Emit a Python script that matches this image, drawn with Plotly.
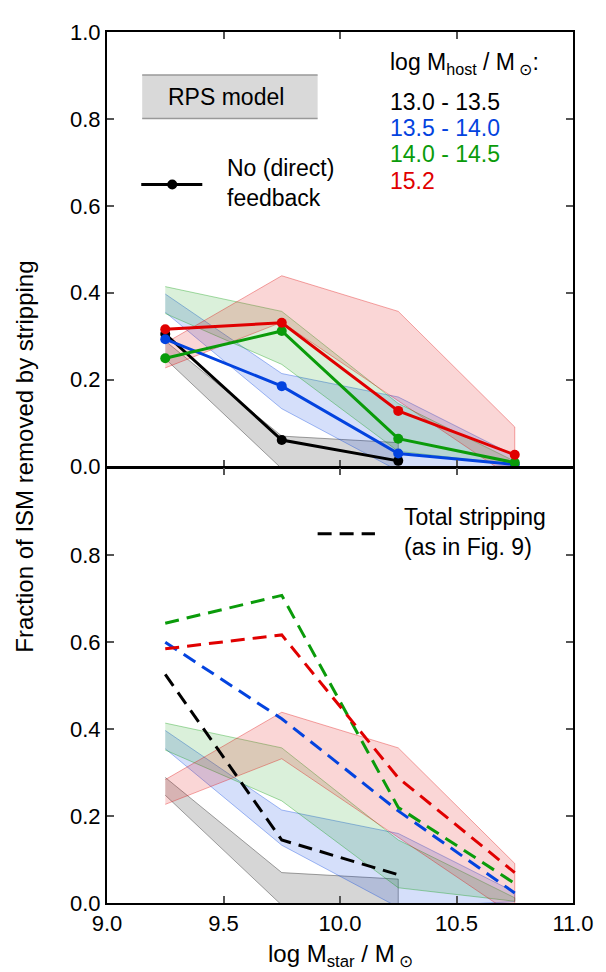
import plotly.graph_objects as go

# stellar mass bins (log M_star / M_sun)
mstar = [9.25, 9.75, 10.25, 10.75]

host_bins = ['13.0 - 13.5', '13.5 - 14.0', '14.0 - 14.5', '15.2']
colors = ['#000000', '#0343df', '#0a9b0a', '#e00000']
fills = ['rgba(0,0,0,0.16)', 'rgba(3,67,223,0.17)', 'rgba(10,155,10,0.15)', 'rgba(224,0,0,0.16)']
edges = ['rgba(0,0,0,0.35)', 'rgba(3,67,223,0.35)', 'rgba(10,155,10,0.35)', 'rgba(224,0,0,0.35)']

# No (direct) feedback - fraction removed by stripping
nofb_13_0 = [0.305, 0.061, 0.013]
nofb_13_5 = [0.293, 0.185, 0.030, 0.005]
nofb_14_0 = [0.249, 0.312, 0.064, 0.009]
nofb_15_2 = [0.316, 0.331, 0.128, 0.027]

# Total stripping (as in Fig. 9)
tot_13_0 = [0.526, 0.145, 0.065]
tot_13_5 = [0.600, 0.424, 0.212, 0.023]
tot_14_0 = [0.644, 0.708, 0.220, 0.045]
tot_15_2 = [0.585, 0.617, 0.288, 0.070]

# RPS model bands (upper / lower)
rps_hi_13_0 = [0.289, 0.070, 0.055]
rps_lo_13_0 = [0.248, -0.005, -0.01]
rps_hi_13_5 = [0.397, 0.214, 0.160, 0.025]
rps_lo_13_5 = [0.355, 0.133, -0.01, 0.003]
rps_hi_14_0 = [0.414, 0.357, 0.145, 0.012]
rps_lo_14_0 = [0.352, 0.235, 0.035, 0.004]
rps_hi_15_2 = [0.284, 0.439, 0.357, 0.091]
rps_lo_15_2 = [0.227, 0.332, 0.150, -0.03]

nofb = [nofb_13_0, nofb_13_5, nofb_14_0, nofb_15_2]
total = [tot_13_0, tot_13_5, tot_14_0, tot_15_2]
rps_hi = [rps_hi_13_0, rps_hi_13_5, rps_hi_14_0, rps_hi_15_2]
rps_lo = [rps_lo_13_0, rps_lo_13_5, rps_lo_14_0, rps_lo_15_2]

FONT = 'Liberation Sans, Arial, Helvetica, sans-serif'

fig = go.Figure()

for xa, ya in [('x', 'y'), ('x2', 'y2')]:
    for i in range(4):
        xs = mstar[:len(rps_hi[i])]
        fig.add_trace(go.Scatter(
            x=xs + xs[::-1], y=rps_hi[i] + rps_lo[i][::-1],
            fill='toself', fillcolor=fills[i], mode='lines',
            line=dict(color=edges[i], width=1),
            xaxis=xa, yaxis=ya, showlegend=False, hoverinfo='skip'
        ))

for i in range(4):
    fig.add_trace(go.Scatter(
        x=mstar[:len(nofb[i])], y=nofb[i], mode='lines+markers',
        line=dict(color=colors[i], width=3),
        marker=dict(color=colors[i], size=10),
        xaxis='x', yaxis='y', showlegend=False, name=host_bins[i]
    ))
    fig.add_trace(go.Scatter(
        x=mstar[:len(total[i])], y=total[i], mode='lines',
        line=dict(color=colors[i], width=3, dash='14px,8px'),
        xaxis='x2', yaxis='y2', showlegend=False, name=host_bins[i]
    ))

axis_common = dict(
    range=[9, 11], showline=True, linecolor='black', linewidth=2, mirror='ticks',
    ticks='inside', ticklen=7, tickwidth=1.5, tickcolor='#555555',
    showgrid=False, zeroline=False,
    tickfont=dict(family=FONT, size=22, color='black'),
    tickvals=[9.0, 9.5, 10.0, 10.5, 11.0], ticktext=['9.0', '9.5', '10.0', '10.5', '11.0'],
)
yaxis_common = dict(
    range=[0, 1], showline=True, linecolor='black', linewidth=2, mirror='ticks',
    ticks='inside', ticklen=7, tickwidth=1.5, tickcolor='#555555',
    showgrid=False, zeroline=False,
    tickfont=dict(family=FONT, size=22, color='black'),
)

# page body adds 8px offset, so the figure is 8px smaller
gap = 1.0 / 881
fig.update_layout(
    width=598, height=964,
    margin=dict(l=99, r=27, t=14, b=69),
    paper_bgcolor='white', plot_bgcolor='white',
    font=dict(family=FONT, color='black'),
    xaxis=dict(axis_common, domain=[0, 1], anchor='y', showticklabels=False),
    xaxis2=dict(axis_common, domain=[0, 1], anchor='y2', matches='x'),
    yaxis=dict(yaxis_common, domain=[0.5 + gap, 1], anchor='x',
               tickvals=[0, 0.2, 0.4, 0.6, 0.8, 1.0],
               ticktext=['0.0', '0.2', '0.4', '0.6', '0.8', '1.0']),
    yaxis2=dict(yaxis_common, domain=[0, 0.5 - gap], anchor='x2',
                tickvals=[0, 0.2, 0.4, 0.6, 0.8],
                ticktext=['0.0', '0.2', '0.4', '0.6', '0.8']),
)

# RPS model legend box
fig.add_shape(type='rect', xref='x', yref='y', x0=9.151, x1=9.904, y0=0.801, y1=0.901,
              fillcolor='#d9d9d9', line=dict(width=0), layer='above')
for yy in [0.801, 0.901]:
    fig.add_shape(type='line', xref='x', yref='y', x0=9.151, x1=9.904, y0=yy, y1=yy,
                  line=dict(color='#999999', width=1.5))
fig.add_annotation(x=9.51, y=0.851, xref='x', yref='y', text='RPS model', showarrow=False,
                   font=dict(size=23), xanchor='center', yanchor='middle')

# No (direct) feedback legend sample
fig.add_shape(type='line', xref='x', yref='y', x0=9.147, x1=9.409, y0=0.649, y1=0.649,
              line=dict(color='black', width=3))
fig.add_shape(type='circle', xref='x', yref='y', xsizemode='pixel', ysizemode='pixel',
              xanchor=9.28, yanchor=0.649, x0=-5, x1=5, y0=-5, y1=5,
              fillcolor='black', line=dict(color='black', width=0))
fig.add_annotation(x=9.507, y=0.653, xref='x', yref='y', text='No (direct)<br>feedback',
                   showarrow=False, align='left', font=dict(size=23),
                   xanchor='left', yanchor='middle')

# host mass legend
fig.add_annotation(x=10.207, y=0.928, xref='x', yref='y',
                   text='log M<sub>host</sub> / M<sub> ⊙</sub>:', showarrow=False,
                   font=dict(size=23), xanchor='left', yanchor='middle')
leg_y = [0.838, 0.778, 0.719, 0.658]
for i in range(4):
    fig.add_annotation(x=10.207, y=leg_y[i], xref='x', yref='y', text=host_bins[i],
                       showarrow=False, font=dict(size=23, color=colors[i]),
                       xanchor='left', yanchor='middle')

# Total stripping legend sample
fig.add_shape(type='line', xref='x2', yref='y2', x0=9.904, x1=10.15, y0=0.85, y1=0.85,
              line=dict(color='black', width=3, dash='14px,8px'))
fig.add_annotation(x=10.267, y=0.853, xref='x2', yref='y2',
                   text='Total stripping<br>(as in Fig. 9)', showarrow=False, align='left',
                   font=dict(size=23), xanchor='left', yanchor='middle')

# axis titles
fig.add_annotation(x=0.5, y=-0.06, xref='paper', yref='paper',
                   text='log M<sub>star</sub> / M<sub> ⊙</sub>', showarrow=False,
                   font=dict(size=24), xanchor='center', yanchor='middle')
fig.add_annotation(x=-0.179, y=0.512, xref='paper', yref='paper',
                   text='Fraction of ISM removed by stripping', showarrow=False,
                   textangle=-90, font=dict(size=24), xanchor='center', yanchor='middle')

fig.write_html("out.html")
